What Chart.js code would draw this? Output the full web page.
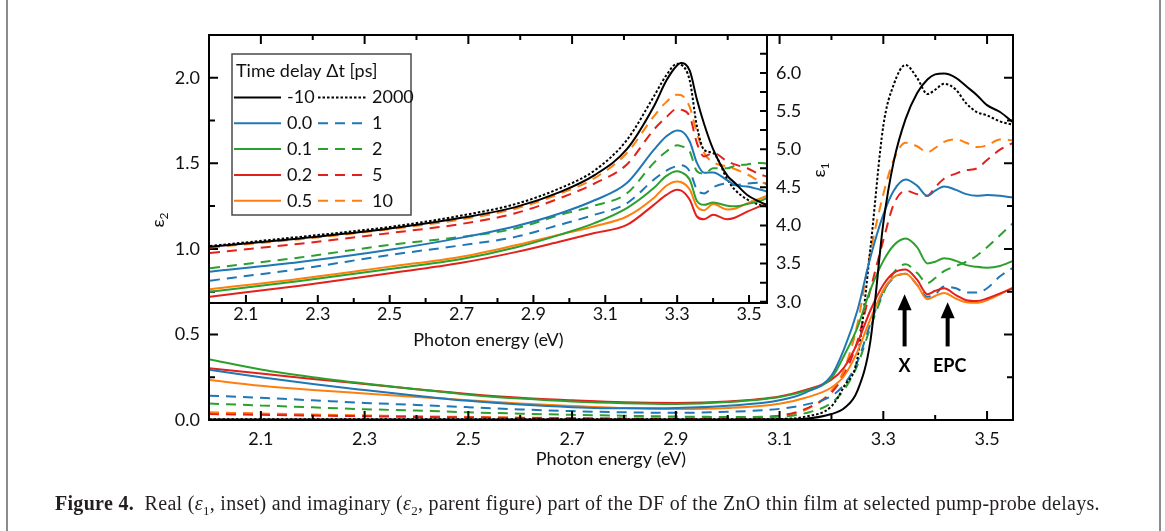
<!DOCTYPE html>
<html>
<head>
<meta charset="utf-8">
<script src="https://cdn.jsdelivr.net/npm/chart.js@4.4.1/dist/chart.umd.min.js"></script>
<style>
  html, body { margin: 0; padding: 0; background: #fff; }
  #wrap { position: relative; width: 1165px; height: 531px; overflow: hidden; }
  canvas { position: absolute; left: 0; top: 0; }
  .edge { position: absolute; top: 0; bottom: 0; width: 2px; background: #8c8c8c; }
  #caption { position: absolute; left: 55px; top: 492px; font-family: 'Liberation Serif', serif; font-size: 20px; letter-spacing: 0.3px; white-space: nowrap; color: #231f20; }
  #caption sub { font-size: 13px; line-height: 0; }
</style>
</head>
<body>
<div id="wrap">
  <canvas id="mainChart" width="1165" height="531"></canvas>
  <canvas id="insetChart" width="1165" height="531"></canvas>
  <div class="edge" style="left:6px"></div>
  <div class="edge" style="left:1159px"></div>
  <div id="caption"><b>Figure 4.</b>&nbsp; Real (<i>ε</i><sub>1</sub>, inset) and imaginary (<i>ε</i><sub>2</sub>, parent figure) part of the DF of the ZnO thin film at selected pump-probe delays.</div>
</div>
<script>
const FONT = 'Lato, "Open Sans", sans-serif';

// Time delays (ps), first five solid, last five dashed
const delays = ['-10', '0.0', '0.1', '0.2', '0.5', '2000', '1', '2', '5', '10'];

// Parent figure: eps2 vs photon energy (eV)
const energyE2 = [2.0, 2.1, 2.2, 2.3, 2.4, 2.5, 2.6, 2.7, 2.8, 2.9, 3.0, 3.1, 3.15,
  3.2, 3.225, 3.25, 3.275, 3.3, 3.32, 3.343, 3.365, 3.385, 3.40, 3.417, 3.44, 3.46, 3.48, 3.5, 3.525, 3.55];

const e2_m10  = [0.003, 0.003, 0.003, 0.003, 0.003, 0.003, 0.003, 0.003, 0.003, 0.003, 0.003, 0.004, 0.008,
  0.035, 0.07, 0.17, 0.46, 1.15, 1.51, 1.76, 1.91, 1.99, 2.02, 2.025, 2.00, 1.95, 1.90, 1.84, 1.80, 1.74];
const e2_0p0  = [0.293, 0.25, 0.21, 0.175, 0.142, 0.112, 0.09, 0.075, 0.068, 0.07, 0.083, 0.115, 0.16,
  0.26, 0.42, 0.64, 0.95, 1.20, 1.34, 1.405, 1.37, 1.31, 1.34, 1.365, 1.345, 1.32, 1.31, 1.315, 1.31, 1.30];
const e2_0p1  = [0.355, 0.295, 0.25, 0.213, 0.18, 0.148, 0.125, 0.108, 0.098, 0.094, 0.105, 0.135, 0.17,
  0.245, 0.38, 0.54, 0.76, 0.93, 1.02, 1.06, 1.01, 0.915, 0.925, 0.945, 0.93, 0.905, 0.895, 0.89, 0.90, 0.93];
const e2_0p2  = [0.303, 0.272, 0.24, 0.21, 0.18, 0.152, 0.13, 0.116, 0.104, 0.10, 0.108, 0.137, 0.175,
  0.235, 0.31, 0.45, 0.64, 0.79, 0.86, 0.88, 0.82, 0.735, 0.755, 0.77, 0.73, 0.70, 0.695, 0.71, 0.74, 0.77];
const e2_0p5  = [0.234, 0.2, 0.175, 0.155, 0.135, 0.115, 0.097, 0.082, 0.07, 0.064, 0.07, 0.095, 0.13,
  0.19, 0.26, 0.40, 0.59, 0.76, 0.835, 0.855, 0.79, 0.705, 0.725, 0.742, 0.71, 0.688, 0.685, 0.70, 0.735, 0.775];
const e2_2000 = [0.004, 0.004, 0.004, 0.004, 0.004, 0.004, 0.004, 0.004, 0.004, 0.004, 0.004, 0.006, 0.02,
  0.08, 0.2, 0.36, 1.0, 1.72, 1.96, 2.075, 2.00, 1.905, 1.93, 1.965, 1.93, 1.85, 1.80, 1.78, 1.745, 1.725];
const e2_1    = [0.142, 0.13, 0.115, 0.10, 0.088, 0.075, 0.062, 0.052, 0.045, 0.042, 0.048, 0.065, 0.09,
  0.14, 0.21, 0.34, 0.56, 0.75, 0.83, 0.855, 0.79, 0.72, 0.735, 0.78, 0.77, 0.745, 0.745, 0.77, 0.84, 0.89];
const e2_2    = [0.096, 0.085, 0.074, 0.063, 0.055, 0.045, 0.037, 0.03, 0.025, 0.02, 0.018, 0.02, 0.04,
  0.10, 0.18, 0.32, 0.54, 0.74, 0.86, 0.91, 0.86, 0.80, 0.83, 0.87, 0.90, 0.925, 0.96, 1.01, 1.08, 1.15];
const e2_5    = [0.035, 0.03, 0.026, 0.022, 0.018, 0.015, 0.012, 0.01, 0.008, 0.008, 0.01, 0.025, 0.065,
  0.16, 0.27, 0.46, 0.76, 1.05, 1.26, 1.34, 1.32, 1.31, 1.36, 1.41, 1.44, 1.46, 1.47, 1.52, 1.58, 1.62];
const e2_10   = [0.045, 0.038, 0.032, 0.027, 0.022, 0.018, 0.014, 0.011, 0.009, 0.008, 0.01, 0.025, 0.06,
  0.17, 0.30, 0.56, 0.98, 1.32, 1.52, 1.62, 1.60, 1.565, 1.59, 1.625, 1.64, 1.62, 1.595, 1.605, 1.64, 1.635];

// Inset: eps1 vs photon energy (eV)
const energyE1 = [2.0, 2.25, 2.5, 2.7, 2.85, 2.975, 3.07, 3.16, 3.235, 3.27, 3.3, 3.31, 3.335, 3.355,
  3.375, 3.40, 3.44, 3.46, 3.495, 3.53, 3.55];

const e1_m10  = [3.72, 3.83, 3.96, 4.10, 4.24, 4.44, 4.66, 5.0, 5.56, 5.9, 6.10, 6.13, 6.03, 5.65, 5.33, 5.0, 4.65, 4.56, 4.40, 4.31, 4.27];
const e1_0p0  = [3.394, 3.52, 3.68, 3.84, 3.99, 4.16, 4.33, 4.555, 4.99, 5.17, 5.246, 5.24, 5.10, 4.82, 4.69, 4.695, 4.59, 4.53, 4.51, 4.47, 4.445];
const e1_0p1  = [3.131, 3.27, 3.43, 3.56, 3.71, 3.88, 4.03, 4.227, 4.49, 4.65, 4.71, 4.70, 4.60, 4.32, 4.27, 4.30, 4.257, 4.25, 4.28, 4.32, 4.36];
const e1_0p2  = [3.066, 3.21, 3.373, 3.51, 3.65, 3.79, 3.90, 4.007, 4.27, 4.40, 4.467, 4.46, 4.336, 4.117, 4.08, 4.14, 4.08, 4.10, 4.18, 4.25, 4.28];
const e1_0p5  = [3.163, 3.30, 3.46, 3.59, 3.74, 3.88, 3.99, 4.117, 4.36, 4.52, 4.576, 4.57, 4.47, 4.25, 4.20, 4.28, 4.21, 4.22, 4.29, 4.35, 4.39];
const e1_2000 = [3.73, 3.85, 3.98, 4.13, 4.28, 4.49, 4.72, 5.12, 5.69, 5.97, 6.12, 6.11, 5.9, 5.3, 4.99, 4.95, 4.6, 4.47, 4.34, 4.27, 4.25];
const e1_1    = [3.276, 3.43, 3.613, 3.74, 3.85, 4.01, 4.14, 4.29, 4.6, 4.72, 4.78, 4.79, 4.71, 4.47, 4.42, 4.50, 4.55, 4.53, 4.55, 4.56, 4.55];
const e1_2    = [3.44, 3.58, 3.745, 3.85, 3.96, 4.14, 4.26, 4.42, 4.82, 4.97, 5.05, 5.04, 4.97, 4.71, 4.68, 4.75, 4.75, 4.78, 4.80, 4.82, 4.81];
const e1_5    = [3.64, 3.76, 3.90, 4.02, 4.16, 4.36, 4.55, 4.80, 5.255, 5.42, 5.53, 5.52, 5.43, 5.08, 4.905, 4.95, 4.84, 4.80, 4.75, 4.67, 4.64];
const e1_10   = [3.71, 3.82, 3.95, 4.08, 4.22, 4.42, 4.62, 4.95, 5.43, 5.62, 5.715, 5.71, 5.55, 5.21, 4.95, 4.83, 4.77, 4.74, 4.67, 4.58, 4.54];

// Tick positions
const xTicks = [2.1, 2.3, 2.5, 2.7, 2.9, 3.1, 3.3, 3.5];
const xMinor = [2.2, 2.4, 2.6, 2.8, 3.0, 3.2, 3.4];
const e2Ticks = [0.0, 0.5, 1.0, 1.5, 2.0];
const e2Minor = [0.25, 0.75, 1.25, 1.75];
const e1Ticks = [3.0, 3.5, 4.0, 4.5, 5.0, 5.5, 6.0];
const e1Minor = [3.25, 3.75, 4.25, 4.75, 5.25, 5.75, 6.25];

// Annotation arrows (energy, tail, tip, text level in eps2 units)
const arrowMarks = [
  { label: 'X', e: 3.341, tail: 0.43, tip: 0.735, text: 0.317 },
  { label: 'EPC', e: 3.424, tail: 0.43, tip: 0.688, text: 0.317 }
];

const colors = ['#000000', '#1f77b4', '#2ca02c', '#e3201c', '#ff7f0e',
                '#000000', '#1f77b4', '#2ca02c', '#e3201c', '#ff7f0e'];
const dashes = [[], [], [], [], [], [2.5, 2], [10, 7], [10, 7], [10, 7], [10, 7]];

const eps2Series = [e2_m10, e2_0p0, e2_0p1, e2_0p2, e2_0p5, e2_2000, e2_1, e2_2, e2_5, e2_10];
const eps1Series = [e1_m10, e1_0p0, e1_0p1, e1_0p2, e1_0p5, e1_2000, e1_1, e1_2, e1_5, e1_10];

function makeDatasets(xs, series) {
    return series.map((ys, i) => ({
        label: delays[i],
        data: xs.map((x, j) => ({ x: x, y: ys[j] })),
        borderColor: colors[i],
        borderWidth: 2,
        borderDash: dashes[i],
        pointRadius: 0,
        fill: false,
        cubicInterpolationMode: 'monotone'
    }));
}

function tickMarks(ctx, chart, axis, values, len, sides) {
    const a = chart.chartArea;
    const s = chart.scales[axis];
    ctx.beginPath();
    values.forEach(v => {
        const p = s.getPixelForValue(v);
        if (axis === 'x') {
            if (sides.includes('bottom')) { ctx.moveTo(p, a.bottom); ctx.lineTo(p, a.bottom - len); }
            if (sides.includes('top')) { ctx.moveTo(p, a.top); ctx.lineTo(p, a.top + len); }
        } else {
            if (sides.includes('left')) { ctx.moveTo(a.left, p); ctx.lineTo(a.left + len, p); }
            if (sides.includes('right')) { ctx.moveTo(a.right, p); ctx.lineTo(a.right - len, p); }
        }
    });
    ctx.stroke();
}

function epsLabel(ctx, x, y, sub) {
    ctx.save();
    ctx.translate(x, y);
    ctx.rotate(-Math.PI / 2);
    ctx.fillStyle = '#111';
    ctx.textAlign = 'left';
    ctx.textBaseline = 'alphabetic';
    ctx.font = '18px ' + FONT;
    const w1 = ctx.measureText('ε').width;
    ctx.font = '12px ' + FONT;
    const w2 = ctx.measureText(sub).width;
    const x0 = -(w1 + w2) / 2;
    ctx.font = '18px ' + FONT;
    ctx.fillText('ε', x0, 5);
    ctx.font = '12px ' + FONT;
    ctx.fillText(sub, x0 + w1, 9);
    ctx.restore();
}

const tickFont = { family: FONT, size: 18 };

// Main (parent) figure decorations
const mainDeco = {
    id: 'mainDeco',
    afterDraw(chart) {
        const ctx = chart.ctx;
        const a = chart.chartArea;
        ctx.save();
        ctx.strokeStyle = '#000';
        ctx.lineWidth = 2;
        ctx.strokeRect(a.left, a.top, a.right - a.left, a.bottom - a.top);
        tickMarks(ctx, chart, 'x', xTicks, 9, ['bottom', 'top']);
        tickMarks(ctx, chart, 'x', xMinor, 5, ['bottom', 'top']);
        tickMarks(ctx, chart, 'y', e2Ticks, 9, ['left', 'right']);
        tickMarks(ctx, chart, 'y', e2Minor, 6, ['left', 'right']);

        ctx.fillStyle = '#111';
        ctx.font = '18px ' + FONT;
        ctx.textAlign = 'center';
        ctx.textBaseline = 'middle';
        ctx.fillText('Photon energy (eV)', (a.left + a.right) / 2, 459);
        epsLabel(ctx, 159, 220, '2');

        const xs = chart.scales.x, ys = chart.scales.y;
        ctx.fillStyle = '#000';
        arrowMarks.forEach(m => {
            const px = xs.getPixelForValue(m.e);
            const tip = ys.getPixelForValue(m.tip);
            const tail = ys.getPixelForValue(m.tail);
            ctx.fillRect(px - 2, tip + 12, 4, tail - tip - 12);
            ctx.beginPath();
            ctx.moveTo(px, tip);
            ctx.lineTo(px - 7, tip + 16);
            ctx.lineTo(px + 7, tip + 16);
            ctx.closePath();
            ctx.fill();
            ctx.font = 'bold 18px ' + FONT;
            ctx.fillText(m.label, px + (m.label === 'EPC' ? 2 : 0), ys.getPixelForValue(m.text));
        });
        ctx.restore();
    }
};

// Inset decorations and legend
const insetDeco = {
    id: 'insetDeco',
    afterDraw(chart) {
        const ctx = chart.ctx;
        const a = chart.chartArea;
        ctx.save();
        ctx.strokeStyle = '#000';
        ctx.lineWidth = 2;
        ctx.beginPath();
        ctx.moveTo(a.left - 1, a.bottom);
        ctx.lineTo(a.right, a.bottom);
        ctx.lineTo(a.right, a.top);
        ctx.stroke();
        tickMarks(ctx, chart, 'x', xTicks, 8, ['bottom']);
        tickMarks(ctx, chart, 'x', xMinor, 5, ['bottom']);
        tickMarks(ctx, chart, 'y', e1Ticks, 7, ['right']);
        tickMarks(ctx, chart, 'y', e1Minor, 7, ['right']);

        ctx.fillStyle = '#111';
        ctx.font = '18px ' + FONT;
        ctx.textAlign = 'center';
        ctx.textBaseline = 'middle';
        ctx.fillText('Photon energy (eV)', (a.left + a.right) / 2, 340);
        epsLabel(ctx, 820, 170, '1');

        // legend
        const bx = 232, by = 54, bw = 179, bh = 161;
        ctx.fillStyle = '#fff';
        ctx.fillRect(bx, by, bw, bh);
        ctx.strokeStyle = '#4a4a4a';
        ctx.lineWidth = 1.5;
        ctx.strokeRect(bx, by, bw, bh);
        ctx.fillStyle = '#111';
        ctx.textAlign = 'left';
        ctx.font = '18px ' + FONT;
        ctx.fillText('Time delay Δt [ps]', 236, 71);
        const ds = chart.data.datasets;
        for (let i = 0; i < 5; i++) {
            const y = 97.5 + i * 25.8;
            [[ds[i], 234, 281, 287], [ds[i + 5], 318, 367, 372]].forEach(([d, x0, x1, tx]) => {
                ctx.strokeStyle = d.borderColor;
                ctx.lineWidth = 2;
                ctx.setLineDash(d.borderDash);
                ctx.beginPath();
                ctx.moveTo(x0, y);
                ctx.lineTo(x1, y);
                ctx.stroke();
                ctx.setLineDash([]);
                ctx.fillStyle = '#111';
                ctx.fillText(d.label, tx, y);
            });
        }
        ctx.restore();
    }
};

new Chart(document.getElementById('mainChart'), {
    type: 'line',
    data: { datasets: makeDatasets(energyE2, eps2Series) },
    options: {
        responsive: false,
        animation: false,
        layout: { padding: { left: 0, right: 152, top: 35, bottom: 0 } },
        scales: {
            x: {
                type: 'linear', min: 2.0, max: 3.55,
                grid: { display: false, drawTicks: false },
                border: { display: false },
                afterBuildTicks: s => { s.ticks = xTicks.map(v => ({ value: v })); },
                afterFit: s => { s.height = 111; },
                ticks: { font: tickFont, color: '#111', padding: 8, autoSkip: false, maxRotation: 0,
                         callback: v => v.toFixed(1) }
            },
            y: {
                type: 'linear', min: 0, max: 2.25,
                grid: { display: false, drawTicks: false },
                border: { display: false },
                afterBuildTicks: s => { s.ticks = e2Ticks.map(v => ({ value: v })); },
                afterFit: s => { s.width = 209; },
                ticks: { font: tickFont, color: '#111', padding: 9, callback: v => v.toFixed(1) }
            }
        },
        plugins: { legend: { display: false }, tooltip: { enabled: false } }
    },
    plugins: [mainDeco]
});

new Chart(document.getElementById('insetChart'), {
    type: 'line',
    data: { datasets: makeDatasets(energyE1, eps1Series) },
    options: {
        responsive: false,
        animation: false,
        layout: { padding: { left: 210, right: 338, top: 35, bottom: 188 } },
        scales: {
            x: {
                type: 'linear', min: 2.0, max: 3.55,
                grid: { display: false, drawTicks: false },
                border: { display: false },
                afterBuildTicks: s => { s.ticks = xTicks.map(v => ({ value: v })); },
                afterFit: s => { s.height = 40; },
                ticks: { font: tickFont, color: '#111', padding: 0, autoSkip: false, maxRotation: 0,
                         callback: v => v.toFixed(1) }
            },
            y: {
                type: 'linear', position: 'right', min: 2.983, max: 6.497,
                grid: { display: false, drawTicks: false },
                border: { display: false },
                afterBuildTicks: s => { s.ticks = e1Ticks.map(v => ({ value: v })); },
                afterFit: s => { s.width = 60; },
                ticks: { font: tickFont, color: '#111', padding: 9, callback: v => v.toFixed(1) }
            }
        },
        plugins: { legend: { display: false }, tooltip: { enabled: false } }
    },
    plugins: [insetDeco]
});
</script>
</body>
</html>
